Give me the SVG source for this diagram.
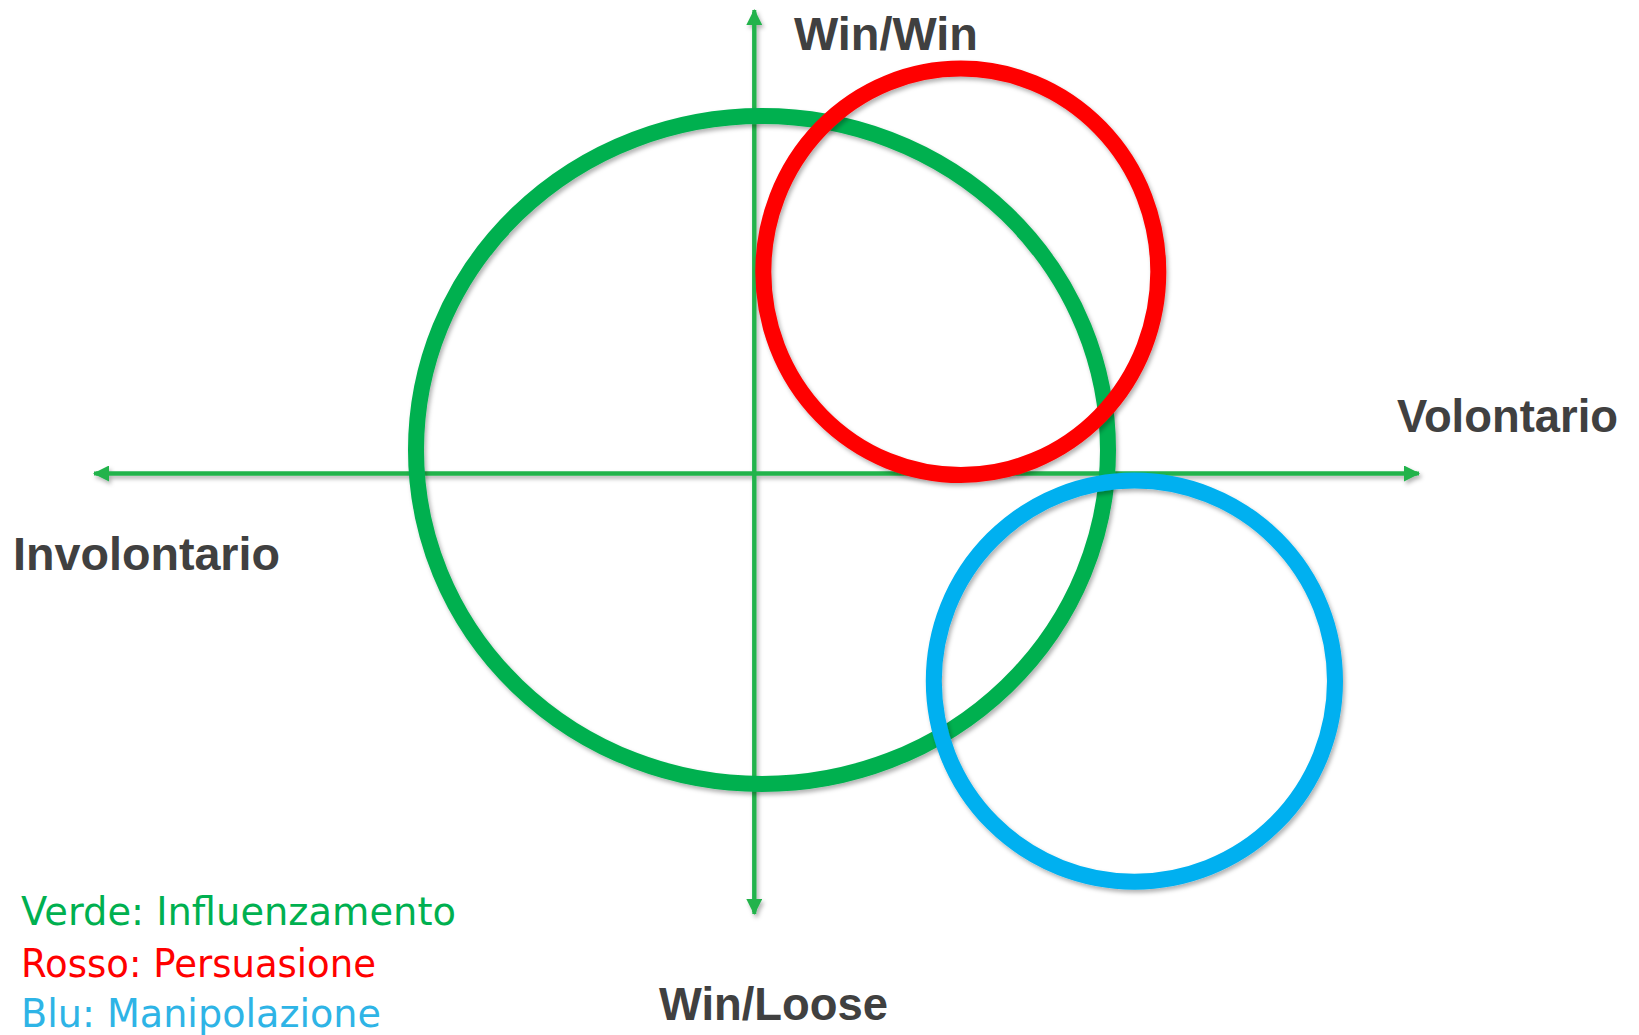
<svg xmlns="http://www.w3.org/2000/svg" width="1639" height="1035" viewBox="0 0 1639 1035">
<style>
.axis{stroke:#22b34c;stroke-width:4;fill:none}
.ring{fill:none;stroke-width:16}
.lbl{font-family:"Liberation Sans",Arial,sans-serif;font-weight:bold;font-size:47px;fill:#404040}
.leg{font-family:"DejaVu Sans","Liberation Sans",sans-serif;font-size:39px}
</style>
<defs>
<filter id="sh" x="-10%" y="-10%" width="120%" height="120%">
<feDropShadow dx="2" dy="3" stdDeviation="2" flood-color="#000" flood-opacity="0.3"/>
</filter>
<marker id="ah" viewBox="0 0 16 16" refX="15" refY="8" markerWidth="16" markerHeight="16" markerUnits="userSpaceOnUse" orient="auto">
<path d="M0,0 L16,8 L0,16 Z" fill="#22b34c"/>
</marker>
</defs>
<g id="connectors" filter="url(#sh)">
<line class="axis" x1="754.3" y1="912" x2="754.3" y2="10" marker-end="url(#ah)"/>
<line class="axis" x1="754.3" y1="12" x2="754.3" y2="914" marker-end="url(#ah)"/>
<line class="axis" x1="1417" y1="473.5" x2="94" y2="473.5" marker-end="url(#ah)"/>
<line class="axis" x1="96" y1="473.5" x2="1419" y2="473.5" marker-end="url(#ah)"/>
</g>
<g id="green" filter="url(#sh)">
<ellipse class="ring" cx="762" cy="450" rx="346" ry="334" stroke="#00b050"/>
</g>
<g id="red" filter="url(#sh)">
<ellipse class="ring" cx="960.8" cy="271.8" rx="197.5" ry="203.2" stroke="#ff0000"/>
</g>
<g id="blue" filter="url(#sh)">
<circle class="ring" cx="1134.4" cy="681.1" r="200.6" stroke="#00b0f0"/>
</g>
<g id="labels">
<text class="lbl" x="794" y="50" textLength="184" lengthAdjust="spacingAndGlyphs">Win/Win</text>
<text class="lbl" x="1397" y="431.5" textLength="221" lengthAdjust="spacingAndGlyphs">Volontario</text>
<text class="lbl" x="13" y="570" textLength="267" lengthAdjust="spacingAndGlyphs">Involontario</text>
<text class="lbl" x="659" y="1020" textLength="229" lengthAdjust="spacingAndGlyphs">Win/Loose</text>
</g>
<g id="legend">
<text class="leg" x="21" y="925" fill="#00b050" textLength="435" lengthAdjust="spacingAndGlyphs">Verde: Influenzamento</text>
<text class="leg" x="21" y="976.5" fill="#ff0000" textLength="355" lengthAdjust="spacingAndGlyphs">Rosso: Persuasione</text>
<text class="leg" x="21" y="1026.5" fill="#2eb4e6" textLength="360" lengthAdjust="spacingAndGlyphs">Blu: Manipolazione</text>
</g>
</svg>
